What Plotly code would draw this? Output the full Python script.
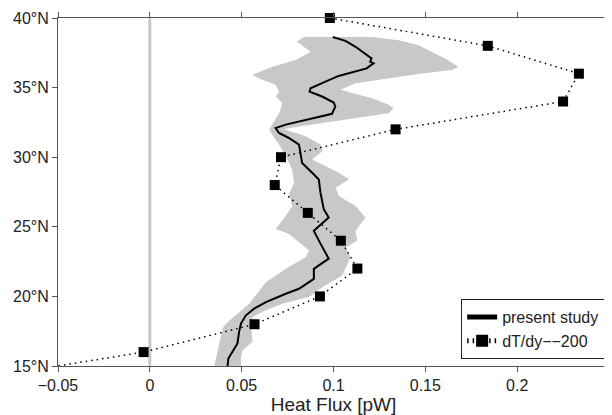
import plotly.graph_objects as go

# present study (mean heat flux vs latitude)
study_lat = [38.64, 38.36, 37.93, 37.34, 37.10, 36.86, 36.74, 36.38, 35.84,
             35.43, 34.95, 34.71, 34.36, 33.93, 33.64, 33.12, 32.69, 32.34,
             32.09, 31.74, 31.38, 30.90, 30.31, 29.59, 28.88, 28.40, 27.45,
             26.26, 25.66, 24.71, 23.79, 23.07, 22.71, 21.98, 21.26, 20.55,
             20.19, 19.59, 19.12, 18.64, 18.05, 17.45, 16.62, 16.02, 15.55,
             15.00]
study_flux = [0.0996, 0.1065, 0.112, 0.118, 0.1207, 0.120, 0.1218, 0.118,
              0.1028, 0.0956, 0.0875, 0.087, 0.0938, 0.1001, 0.101, 0.0992,
              0.0848, 0.074, 0.0685, 0.0703, 0.0757, 0.0812, 0.082, 0.0829,
              0.0884, 0.092, 0.0929, 0.0947, 0.0974, 0.0893, 0.0929, 0.0956,
              0.0974, 0.0893, 0.0893, 0.0812, 0.074, 0.0632, 0.0568, 0.0523,
              0.0496, 0.0486, 0.0477, 0.045, 0.0428, 0.0423]

# uncertainty band, left (low) edge
band_low_lat = [38.64, 38.29, 37.57, 36.98, 36.50, 35.91, 35.66, 35.19,
                34.71, 34.36, 33.88, 33.16, 32.57, 31.98, 31.62, 30.90,
                30.07, 29.12, 28.16, 27.34, 26.50, 25.79, 24.84, 24.48,
                23.29, 22.81, 21.98, 21.02, 19.48, 18.64, 18.05, 17.69,
                16.74, 15.79, 15.00]
band_low = [0.084, 0.080, 0.0876, 0.0794, 0.0668, 0.0559, 0.0595, 0.0686,
            0.0704, 0.0686, 0.0722, 0.0704, 0.0677, 0.065, 0.0666, 0.0704,
            0.074, 0.0774, 0.0785, 0.0758, 0.0776, 0.074, 0.0686, 0.0758,
            0.0867, 0.0849, 0.074, 0.0632, 0.0541, 0.0469, 0.0415, 0.0396,
            0.0379, 0.0361, 0.0351]

# uncertainty band, right (high) edge
band_high_lat = [38.64, 38.41, 38.05, 37.57, 37.09, 36.50, 36.26, 36.02,
                 35.66, 35.31, 34.84, 34.66, 34.24, 33.76, 33.52, 33.16,
                 32.81, 32.45, 32.21, 32.00, 31.50, 30.91, 30.43, 29.84,
                 28.88, 28.41, 27.81, 27.21, 26.50, 25.66, 24.71, 24.00,
                 23.52, 22.81, 21.50, 20.66, 19.95, 19.48, 19.00, 18.52,
                 17.93, 16.74, 16.14, 15.55, 15.00]
band_high = [0.121, 0.1355, 0.1463, 0.1535, 0.1608, 0.168, 0.1644, 0.1481,
             0.130, 0.112, 0.1039, 0.1084, 0.121, 0.130, 0.1328, 0.130,
             0.112, 0.0939, 0.0812, 0.0731, 0.0849, 0.093, 0.0939, 0.0884,
             0.1029, 0.1084, 0.1011, 0.1029, 0.112, 0.1174, 0.112, 0.1129,
             0.1067, 0.1093, 0.1047, 0.0939, 0.0867, 0.0722, 0.0632, 0.0559,
             0.055, 0.0559, 0.0505, 0.0496, 0.0496]

# dT/dy--200 estimate
dtdy_lat = [40, 38, 36, 34, 32, 30, 28, 26, 24, 22, 20, 18, 16, 14]
dtdy_flux = [0.098, 0.184, 0.2336, 0.225, 0.1338, 0.0714, 0.068, 0.086,
             0.104, 0.113, 0.0926, 0.057, -0.0034, -0.097]

y_ticks = [15, 20, 25, 30, 35, 40]
y_labels = ['15°N', '20°N', '25°N', '30°N', '35°N', '40°N']
x_ticks = [-0.05, 0, 0.05, 0.1, 0.15, 0.2]
x_labels = ['\u22120.05', '0', '0.05', '0.1', '0.15', '0.2']

fig = go.Figure()

fig.add_vline(x=0, line=dict(color='#c8c8c8', width=3), layer='below')

fig.add_trace(
    go.Scatter(
        x=band_low + band_high[::-1],
        y=band_low_lat + band_high_lat[::-1],
        fill='toself',
        fillcolor='#c8c8c8',
        line=dict(width=0),
        mode='lines',
        hoverinfo='skip',
        showlegend=False
    )
)

fig.add_trace(
    go.Scatter(
        x=study_flux,
        y=study_lat,
        mode='lines',
        line=dict(color='black', width=2),
        name='present study'
    )
)

# the 14N point is off-chart, so its marker is hidden
fig.add_trace(
    go.Scatter(
        x=dtdy_flux,
        y=dtdy_lat,
        mode='lines+markers',
        line=dict(color='black', width=1.5, dash='1.5px,4px'),
        marker=dict(symbol='square', color='black', opacity=1,
                    size=[10] * (len(dtdy_lat) - 1) + [0],
                    line=dict(width=0)),
        cliponaxis=False,
        name='dT/dy\u2212\u2212200'
    )
)

# page body adds 8px, so the figure is 8px smaller with margins shifted
fig.update_layout(
    width=604,
    height=407,
    margin=dict(l=50, r=2, t=8, b=49),
    plot_bgcolor='white',
    paper_bgcolor='white',
    font=dict(family='Liberation Sans, Arial, sans-serif', size=16,
              color='#222222'),
    legend=dict(
        x=0.993, y=0.02, xanchor='right', yanchor='bottom',
        bordercolor='#222222', borderwidth=1, bgcolor='white',
        font=dict(size=16), tracegroupgap=0, itemsizing='constant'
    ),
    xaxis=dict(
        range=[-0.05, 0.25],
        tickvals=x_ticks,
        ticktext=x_labels,
        ticks='outside', ticklen=5, tickcolor='#555555',
        showline=True, linecolor='#555555', linewidth=1, mirror='ticks',
        showgrid=False, zeroline=False,
        title=dict(text='Heat Flux [pW]', standoff=3)
    ),
    yaxis=dict(
        range=[15, 40],
        tickvals=y_ticks,
        ticktext=y_labels,
        ticklabeloverflow='allow',
        ticks='outside', ticklen=5, tickcolor='#555555',
        showline=True, linecolor='#555555', linewidth=1, mirror=True,
        showgrid=False, zeroline=False
    )
)

fig.write_html('out.html')
